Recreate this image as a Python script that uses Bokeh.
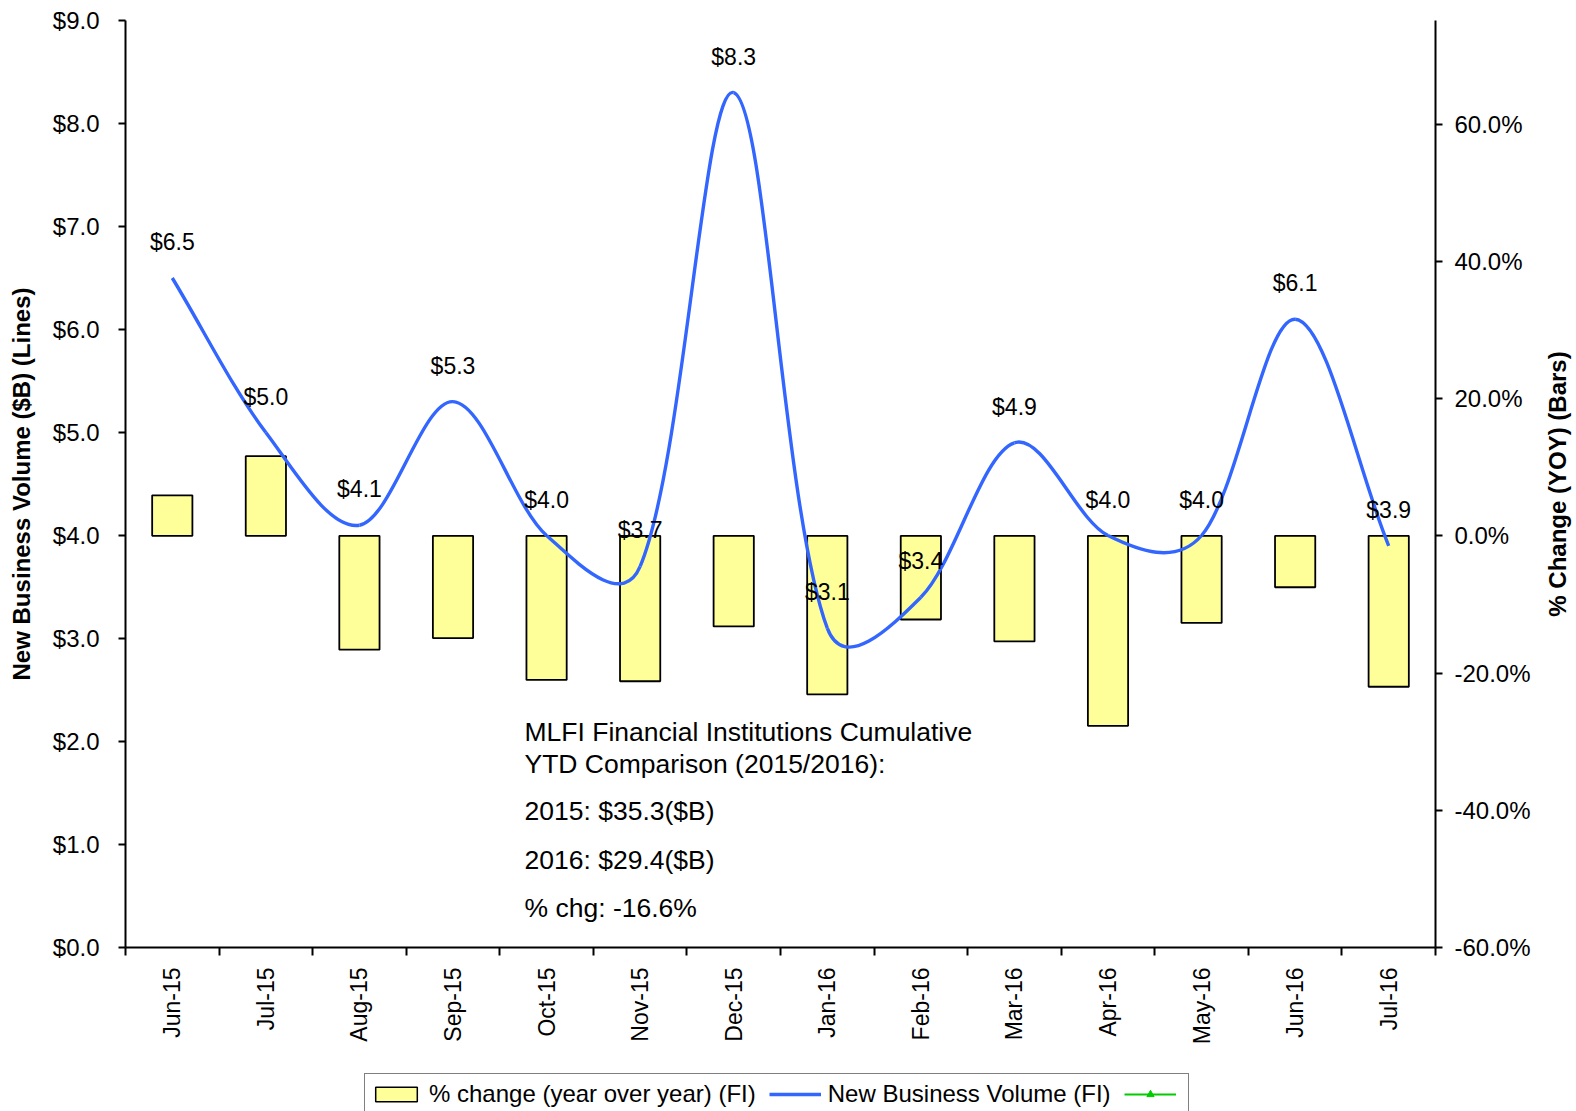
import numpy as np
from bokeh.plotting import figure
from bokeh.layouts import row, column
from bokeh.models import (Range1d, LinearAxis, FixedTicker, NumeralTickFormatter,
                          PrintfTickFormatter, Legend, LegendItem, Label, ColumnDataSource)
from bokeh.embed import file_html
from bokeh.resources import INLINE
from bokeh.core.properties import value

# ---------------- data ----------------
months = ["Jun-15", "Jul-15", "Aug-15", "Sep-15", "Oct-15", "Nov-15", "Dec-15",
          "Jan-16", "Feb-16", "Mar-16", "Apr-16", "May-16", "Jun-16", "Jul-16"]
volume_b = [6.5, 5.0, 4.1, 5.3, 4.0, 3.7, 8.3, 3.1, 3.4, 4.9, 4.0, 4.0, 6.1, 3.9]
pct_change = [5.9, 11.6, -16.6, -14.9, -21.0, -21.2, -13.2, -23.1, -12.2, -15.4,
              -27.7, -12.7, -7.5, -22.0]
left_ticks = [0, 1, 2, 3, 4, 5, 6, 7, 8, 9]
right_ticks = [-60, -40, -20, 0, 20, 40, 60]
summary_lines = ["MLFI Financial Institutions Cumulative",
                 "YTD Comparison (2015/2016):",
                 "2015: $35.3($B)",
                 "2016: $29.4($B)",
                 "% chg: -16.6%"]
left_title = "New Business Volume ($B) (Lines)"
right_title = "% Change (YOY) (Bars)"
legend_labels = ["% change (year over year) (FI)", "New Business Volume (FI)", " "]

FONT = "Liberation Sans"
BAR_FILL = "#FFFF99"
LINE_BLUE = "#3366FF"
GREEN = "#00CC00"

n = len(months)
xs = list(range(n))

MAIN_W, MAIN_H = 1540, 1060
LEFT, RIGHT, TOP, BOTTOM = 125, 105, 20, 113

p = figure(width=MAIN_W, height=MAIN_H, output_backend="svg", toolbar_location=None,
           x_range=Range1d(-0.5, n - 0.5), y_range=Range1d(0, 9),
           min_border_left=LEFT, min_border_right=RIGHT, min_border_top=TOP,
           min_border_bottom=BOTTOM)
p.outline_line_color = None
p.xgrid.visible = False
p.ygrid.visible = False
p.background_fill_color = "white"
p.border_fill_color = "white"
p.extra_y_ranges = {"pct": Range1d(-60, 75.1)}

# ---- x axis ----
xa = p.xaxis[0]
xa.ticker = FixedTicker(ticks=xs, minor_ticks=[i - 0.5 for i in range(n + 1)])
xa.major_label_overrides = {i: m for i, m in enumerate(months)}
xa.major_label_orientation = np.pi / 2
xa.major_tick_in = 0
xa.major_tick_out = 0
xa.minor_tick_in = 0
xa.minor_tick_out = 8
xa.minor_tick_line_color = "black"
xa.minor_tick_line_width = 2
xa.axis_line_width = 2
xa.axis_line_color = "black"
xa.major_label_text_font = FONT
xa.major_label_text_font_size = "23px"
xa.major_label_text_color = "black"
xa.major_label_standoff = 12

# ---- left axis ----
ya = p.yaxis[0]
ya.ticker = FixedTicker(ticks=left_ticks)
ya.formatter = NumeralTickFormatter(format="$0.0")
ya.major_tick_in = 0
ya.major_tick_out = 7
ya.minor_tick_out = 0
ya.minor_tick_in = 0
ya.major_tick_line_width = 2
ya.axis_line_width = 2
ya.major_label_text_font = FONT
ya.major_label_text_font_size = "24px"
ya.major_label_text_color = "black"
ya.major_label_standoff = 19
ya.axis_label = left_title
ya.axis_label_text_font = FONT
ya.axis_label_text_font_style = "bold"
ya.axis_label_text_font_size = "24px"
ya.axis_label_text_color = "black"
ya.axis_label_standoff = 15

# ---- right axis ----
ra = LinearAxis(y_range_name="pct", ticker=FixedTicker(ticks=right_ticks),
                formatter=PrintfTickFormatter(format="%.1f%%"))
ra.major_tick_in = 0
ra.major_tick_out = 7
ra.minor_tick_out = 0
ra.minor_tick_in = 0
ra.major_tick_line_width = 2
ra.axis_line_width = 2
ra.major_label_text_font = FONT
ra.major_label_text_font_size = "24px"
ra.major_label_text_color = "black"
ra.major_label_standoff = 12
p.add_layout(ra, "right")

# ---- bars ----
bar_src = ColumnDataSource(dict(x=xs, top=pct_change))
p.vbar(x="x", top="top", bottom=0, width=0.43, source=bar_src,
       y_range_name="pct", fill_color=BAR_FILL, line_color="black", line_width=1.8)

# ---- smoothed line: bezier segments through the data points ----
# handles proportional to adjacent segment lengths (chart-smoothing style)
X_WEIGHT = 2.1      # horizontal weight of one category step, in $ units
TENSION = 1.0 / 3.0
P = np.array([[x * X_WEIGHT, v] for x, v in zip(xs, volume_b)])
h_in = np.zeros_like(P)
h_out = np.zeros_like(P)
for i in range(n):
    ip, inx = max(i - 1, 0), min(i + 1, n - 1)
    d_prev = np.hypot(*(P[i] - P[ip]))
    d_next = np.hypot(*(P[inx] - P[i]))
    D = P[inx] - P[ip]
    tot = d_prev + d_next
    h_in[i] = D * TENSION * d_prev / tot
    h_out[i] = D * TENSION * d_next / tot
seg = dict(x0=[], y0=[], x1=[], y1=[], cx0=[], cy0=[], cx1=[], cy1=[])
for i in range(n - 1):
    c0 = P[i] + h_out[i]
    c1 = P[i + 1] - h_in[i + 1]
    seg["x0"].append(xs[i]); seg["y0"].append(volume_b[i])
    seg["x1"].append(xs[i + 1]); seg["y1"].append(volume_b[i + 1])
    seg["cx0"].append(c0[0] / X_WEIGHT); seg["cy0"].append(c0[1])
    seg["cx1"].append(c1[0] / X_WEIGHT); seg["cy1"].append(c1[1])
p.bezier(x0="x0", y0="y0", x1="x1", y1="y1", cx0="cx0", cy0="cy0", cx1="cx1",
         cy1="cy1", source=ColumnDataSource(seg), line_color=LINE_BLUE, line_width=3.4)

# ---- data labels ----
lab_src = ColumnDataSource(dict(x=xs, y=volume_b, t=[f"${v:.1f}" for v in volume_b]))
p.text(x="x", y="y", text="t", source=lab_src, y_offset=-36, text_align="center",
       text_baseline="middle", text_font=value(FONT), text_font_size="23px",
       text_color="black")

# ---- summary annotation ----
summary_y = [216, 184, 137, 88, 40]
for txt, yy in zip(summary_lines, summary_y):
    p.add_layout(Label(x=399, y=yy, x_units="screen", y_units="screen", text=txt,
                       text_font=FONT, text_font_size="26.5px", text_color="black",
                       text_baseline="middle", text_align="left"))

# ---- right-hand axis title (narrow strip, reads bottom-to-top) ----
SIDE_W = 1576 - MAIN_W
side = figure(width=SIDE_W, height=MAIN_H, output_backend="svg", toolbar_location=None,
              x_range=Range1d(0, SIDE_W), y_range=Range1d(0, 1),
              x_axis_location=None, y_axis_location=None,
              min_border_left=0, min_border_right=0, min_border_top=TOP,
              min_border_bottom=BOTTOM)
side.outline_line_color = None
side.background_fill_color = "white"
side.border_fill_color = "white"
side.grid.visible = False
side.text(x=[17], y=[0.5], text=[right_title], angle=np.pi / 2, text_align="center",
          text_baseline="middle", text_font=value(FONT), text_font_style="bold",
          text_font_size="24px", text_color="black")

# ---- legend strip ----
LEG_H = 1111 - MAIN_H
lf = figure(width=1576, height=LEG_H, output_backend="svg", toolbar_location=None,
            x_range=Range1d(0, 1576), y_range=Range1d(0, LEG_H),
            x_axis_location=None, y_axis_location=None,
            min_border_left=0, min_border_right=0, min_border_top=0,
            min_border_bottom=0)
lf.outline_line_color = None
lf.background_fill_color = "white"
lf.border_fill_color = "white"
lf.grid.visible = False
nan = [float("nan")]
r_bar = lf.vbar(x=nan, top=nan, bottom=0, width=1, fill_color=BAR_FILL,
                line_color="black", line_width=1.5)
r_line = lf.line(x=nan, y=nan, line_color=LINE_BLUE, line_width=3.4)
r_gline = lf.line(x=nan, y=nan, line_color=GREEN, line_width=2)
r_gmark = lf.scatter(x=nan, y=nan, marker="triangle", size=14, fill_color=GREEN,
                     line_color=GREEN)
legend = Legend(items=[
    LegendItem(label=legend_labels[0], renderers=[r_bar]),
    LegendItem(label=legend_labels[1], renderers=[r_line]),
    LegendItem(label=legend_labels[2], renderers=[r_gline, r_gmark]),
], orientation="horizontal", location=(364, -4))
legend.glyph_width = 52
legend.glyph_height = 18
legend.label_height = 30
legend.label_width = 0
legend.label_standoff = 7
legend.spacing = 13
legend.padding = 5
legend.margin = 0
legend.border_line_color = "black"
legend.border_line_width = 1.5
legend.background_fill_alpha = 1
legend.label_text_font = FONT
legend.label_text_font_size = "24px"
legend.label_text_color = "black"
lf.add_layout(legend, "center")

layout = column(row(p, side, spacing=0), lf, spacing=0)
open("out.html", "w").write(file_html(layout, INLINE))
